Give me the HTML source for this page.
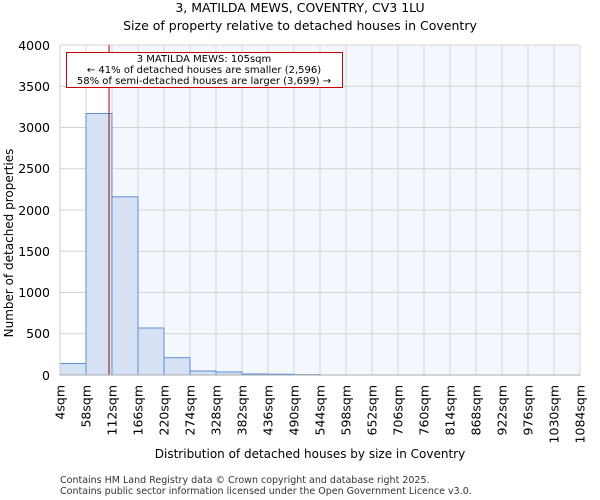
<!DOCTYPE html>
<html><head><style>body{margin:0;background:#fff}svg{display:block;font-family:"DejaVu Sans","Liberation Sans",sans-serif}</style></head><body>
<svg width="600" height="500" viewBox="0 0 600 500" xmlns="http://www.w3.org/2000/svg">
<text x="300" y="12" text-anchor="middle" font-size="12.5">3, MATILDA MEWS, COVENTRY, CV3 1LU</text>
<text x="300" y="30" text-anchor="middle" font-size="12.5">Size of property relative to detached houses in Coventry</text>
<rect x="109" y="45" width="471" height="330" fill="#f4f7fd"/>
<g stroke="#d4d4d4" stroke-width="1">
<line x1="60" y1="333.75" x2="580" y2="333.75"/><line x1="60" y1="292.5" x2="580" y2="292.5"/><line x1="60" y1="251.25" x2="580" y2="251.25"/><line x1="60" y1="210" x2="580" y2="210"/><line x1="60" y1="168.75" x2="580" y2="168.75"/><line x1="60" y1="127.5" x2="580" y2="127.5"/><line x1="60" y1="86.25" x2="580" y2="86.25"/><line x1="60" y1="45" x2="580" y2="45"/>
<line x1="86" y1="45" x2="86" y2="375"/><line x1="112" y1="45" x2="112" y2="375"/><line x1="138" y1="45" x2="138" y2="375"/><line x1="164" y1="45" x2="164" y2="375"/><line x1="190" y1="45" x2="190" y2="375"/><line x1="216" y1="45" x2="216" y2="375"/><line x1="242" y1="45" x2="242" y2="375"/><line x1="268" y1="45" x2="268" y2="375"/><line x1="294" y1="45" x2="294" y2="375"/><line x1="320" y1="45" x2="320" y2="375"/><line x1="346" y1="45" x2="346" y2="375"/><line x1="372" y1="45" x2="372" y2="375"/><line x1="398" y1="45" x2="398" y2="375"/><line x1="424" y1="45" x2="424" y2="375"/><line x1="450" y1="45" x2="450" y2="375"/><line x1="476" y1="45" x2="476" y2="375"/><line x1="502" y1="45" x2="502" y2="375"/><line x1="528" y1="45" x2="528" y2="375"/><line x1="554" y1="45" x2="554" y2="375"/><line x1="580" y1="45" x2="580" y2="375"/>
</g>
<g fill="#d6e2f3" stroke="#5b8fd9" stroke-width="1">
<rect x="60" y="363.5" width="26" height="11.5"/>
<rect x="86" y="113.5" width="26" height="261.5"/>
<rect x="112" y="196.8" width="26" height="178.2"/>
<rect x="138" y="328" width="26" height="47"/>
<rect x="164" y="357.7" width="26" height="17.3"/>
<rect x="190" y="371" width="26" height="4"/>
<rect x="216" y="372" width="26" height="3"/>
<rect x="242" y="374" width="26" height="1"/>
<rect x="268" y="374.2" width="26" height="0.8"/>
<rect x="294" y="374.6" width="26" height="0.4"/>
</g>
<line x1="109" y1="45" x2="109" y2="375" stroke="#aa0000" stroke-width="1"/>
<line x1="60" y1="375" x2="580" y2="375" stroke="#aaaaaa"/>
<line x1="60" y1="45" x2="60" y2="375" stroke="#cccccc"/>
<g font-size="12.5" text-anchor="end">
<text x="50" y="380">0</text><text x="50" y="338">500</text><text x="50" y="297">1000</text><text x="50" y="256">1500</text><text x="50" y="215">2000</text><text x="50" y="173">2500</text><text x="50" y="132">3000</text><text x="50" y="91">3500</text><text x="50" y="50">4000</text>
</g>
<text transform="translate(13,243) rotate(-90)" text-anchor="middle" font-size="12">Number of detached properties</text>
<g font-size="12.5" text-anchor="end">
<text transform="translate(64.5,385) rotate(-90)">4sqm</text><text transform="translate(90.5,385) rotate(-90)">58sqm</text><text transform="translate(116.5,385) rotate(-90)">112sqm</text><text transform="translate(142.5,385) rotate(-90)">166sqm</text><text transform="translate(168.5,385) rotate(-90)">220sqm</text><text transform="translate(194.5,385) rotate(-90)">274sqm</text><text transform="translate(220.5,385) rotate(-90)">328sqm</text><text transform="translate(246.5,385) rotate(-90)">382sqm</text><text transform="translate(272.5,385) rotate(-90)">436sqm</text><text transform="translate(298.5,385) rotate(-90)">490sqm</text><text transform="translate(324.5,385) rotate(-90)">544sqm</text><text transform="translate(350.5,385) rotate(-90)">598sqm</text><text transform="translate(376.5,385) rotate(-90)">652sqm</text><text transform="translate(402.5,385) rotate(-90)">706sqm</text><text transform="translate(428.5,385) rotate(-90)">760sqm</text><text transform="translate(454.5,385) rotate(-90)">814sqm</text><text transform="translate(480.5,385) rotate(-90)">868sqm</text><text transform="translate(506.5,385) rotate(-90)">922sqm</text><text transform="translate(532.5,385) rotate(-90)">976sqm</text><text transform="translate(558.5,385) rotate(-90)">1030sqm</text><text transform="translate(584.5,385) rotate(-90)">1084sqm</text>
</g>
<text x="310" y="458" text-anchor="middle" font-size="12">Distribution of detached houses by size in Coventry</text>
<rect x="66.5" y="52.5" width="276" height="35" fill="#fff" stroke="#cc0000" stroke-width="1"/>
<g font-size="10" text-anchor="middle">
<text x="204" y="62">3 MATILDA MEWS: 105sqm</text>
<text x="204" y="73">← 41% of detached houses are smaller (2,596)</text>
<text x="204" y="84">58% of semi-detached houses are larger (3,699) →</text>
</g>
<g font-size="9.5" fill="#333">
<text x="60" y="483">Contains HM Land Registry data © Crown copyright and database right 2025.</text>
<text x="60" y="494">Contains public sector information licensed under the Open Government Licence v3.0.</text>
</g>
</svg>
</body></html>
